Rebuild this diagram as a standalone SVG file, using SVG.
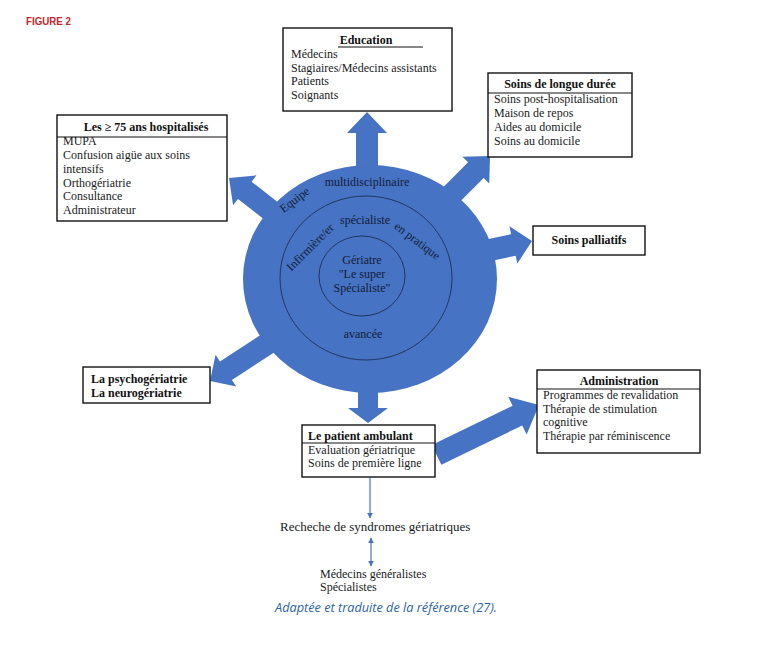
<svg xmlns="http://www.w3.org/2000/svg" width="771" height="653" viewBox="0 0 771 653">
<defs>
<style>
.box{fill:#fff;stroke:#111;stroke-width:1.4}
.sep{stroke:#111;stroke-width:1.2}
.t{font-family:"Liberation Serif","Times New Roman",serif;font-size:12px;fill:#1a1a1a}
.b{font-family:"Liberation Serif","Times New Roman",serif;font-size:12px;font-weight:bold;fill:#111}
.c{font-family:"Liberation Serif","Times New Roman",serif;font-size:12px;fill:#141c36;text-anchor:middle}
.arr{fill:#4673c4}
.ring{fill:none;stroke:#23365f;stroke-width:1}
.thin{stroke:#4673c4;stroke-width:1.2;fill:none}
</style>
<marker id="ah" viewBox="0 0 10 10" refX="9" refY="5" markerWidth="5" markerHeight="5" orient="auto-start-reverse">
<path d="M0,0 L10,5 L0,10 Z" fill="#4673c4"/>
</marker>
</defs>
<rect width="771" height="653" fill="#fff"/>
<text x="26" y="25" font-family="'Liberation Sans Narrow','Liberation Sans',sans-serif" font-size="11.5" font-weight="bold" fill="#c1272d" textLength="45" lengthAdjust="spacingAndGlyphs">FIGURE 2</text>

<g id="connectors">
<polygon class="arr" transform="translate(367,112) rotate(-90)" points="-80,-11 -21,-11 -21,-20 0,0 -21,20 -21,11 -80,11"/>
<polygon class="arr" transform="translate(490,156) rotate(-45)" points="-72,-11 -20,-11 -20,-19 0,0 -20,19 -20,11 -72,11"/>
<polygon class="arr" transform="translate(532,241) rotate(-12)" points="-60,-11 -19,-11 -19,-19 0,0 -19,19 -19,11 -60,11"/>
<polygon class="arr" transform="translate(229,178) rotate(-142)" points="-68,-11 -20,-11 -20,-19 0,0 -20,19 -20,11 -68,11"/>
<polygon class="arr" transform="translate(210,381) rotate(147)" points="-72,-11 -19,-11 -19,-19 0,0 -19,19 -19,11 -72,11"/>
<polygon class="arr" transform="translate(368,423) rotate(90)" points="-50,-10 -15,-10 -15,-20 0,0 -15,20 -15,10 -50,10"/>
<polygon class="arr" transform="translate(539,405) rotate(-26)" points="-114,-11 -24,-11 -24,-21 0,0 -24,21 -24,11 -114,11"/>
<line class="thin" x1="370" y1="478" x2="370" y2="518" marker-end="url(#ah)"/>
<line class="thin" x1="371" y1="538" x2="371" y2="566" marker-start="url(#ah)" marker-end="url(#ah)"/>
</g>

<g id="circle">
<ellipse cx="370" cy="279" rx="127" ry="114" fill="#4673c4"/>
<ellipse class="ring" cx="366" cy="278" rx="86" ry="82"/>
<ellipse class="ring" cx="362" cy="276" rx="43" ry="40"/>
<text class="c" x="367" y="186">multidisciplinaire</text>
<text class="c" transform="translate(297,203) rotate(-37)">Equipe</text>
<text class="c" x="365" y="224">spécialiste</text>
<text class="c" transform="translate(415,244) rotate(37)">en pratique</text>
<text class="c" transform="translate(313,250) rotate(-45)">Infirmière/er</text>
<text class="c" x="362" y="264">Gériatre</text>
<text class="c" x="362" y="278">"Le super</text>
<text class="c" x="362" y="292">Spécialiste"</text>
<text class="c" x="363" y="338">avancée</text>
</g>

<g id="education">
<rect class="box" x="283" y="28" width="169" height="83"/>
<text class="b" x="366" y="44" text-anchor="middle">Education</text>
<line class="sep" x1="338" y1="47" x2="423" y2="47" stroke-width="1.6"/>
<text class="t" x="291" y="58">Médecins</text>
<text class="t" x="291" y="72">Stagiaires/Médecins assistants</text>
<text class="t" x="291" y="85">Patients</text>
<text class="t" x="291" y="99">Soignants</text>
</g>

<g id="longue-duree">
<rect class="box" x="488" y="73" width="144" height="84"/>
<text class="b" x="560" y="88" text-anchor="middle">Soins de longue durée</text>
<line class="sep" x1="488" y1="93" x2="632" y2="93"/>
<text class="t" x="494" y="103">Soins post-hospitalisation</text>
<text class="t" x="494" y="117">Maison de repos</text>
<text class="t" x="494" y="131">Aides au domicile</text>
<text class="t" x="494" y="145">Soins au domicile</text>
</g>

<g id="hospitalises">
<rect class="box" x="57" y="115" width="170" height="106"/>
<text class="b" x="146" y="131" text-anchor="middle">Les ≥ 75 ans hospitalisés</text>
<line class="sep" x1="57" y1="137" x2="227" y2="137"/>
<text class="t" x="63" y="145">MUPA</text>
<text class="t" x="63" y="159">Confusion aigüe aux soins</text>
<text class="t" x="63" y="173">intensifs</text>
<text class="t" x="63" y="187">Orthogériatrie</text>
<text class="t" x="63" y="200">Consultance</text>
<text class="t" x="63" y="214">Administrateur</text>
</g>

<g id="palliatifs">
<rect class="box" x="533" y="226" width="112" height="29"/>
<text class="b" x="589" y="244" text-anchor="middle">Soins palliatifs</text>
</g>

<g id="psycho">
<rect class="box" x="83" y="367" width="127" height="36"/>
<text class="b" x="91" y="383">La psychogériatrie</text>
<text class="b" x="91" y="397">La neurogériatrie</text>
</g>

<g id="administration">
<rect class="box" x="537" y="370" width="163" height="83"/>
<text class="b" x="619" y="385" text-anchor="middle">Administration</text>
<line class="sep" x1="537" y1="389" x2="700" y2="389"/>
<text class="t" x="543" y="399">Programmes de revalidation</text>
<text class="t" x="543" y="413">Thérapie de stimulation</text>
<text class="t" x="543" y="426">cognitive</text>
<text class="t" x="543" y="440">Thérapie par réminiscence</text>
</g>

<g id="ambulant">
<rect class="box" x="302" y="425" width="133" height="52"/>
<text class="b" x="308" y="440">Le patient ambulant</text>
<line class="sep" x1="302" y1="443" x2="435" y2="443"/>
<text class="t" x="308" y="454">Evaluation gériatrique</text>
<text class="t" x="308" y="467">Soins de première ligne</text>
</g>

<g id="syndromes">
<text class="t" x="280" y="531" style="font-size:13px">Recheche de syndromes gériatriques</text>
</g>
<g id="medecins">
<text class="t" x="320" y="578">Médecins généralistes</text>
<text class="t" x="320" y="591">Spécialistes</text>
</g>
<text x="275" y="612" font-family="'Liberation Sans Narrow','Open Sans',sans-serif" font-size="13" font-style="italic" fill="#2b63a4" textLength="222" lengthAdjust="spacingAndGlyphs">Adaptée et traduite de la référence (27).</text>
</svg>
